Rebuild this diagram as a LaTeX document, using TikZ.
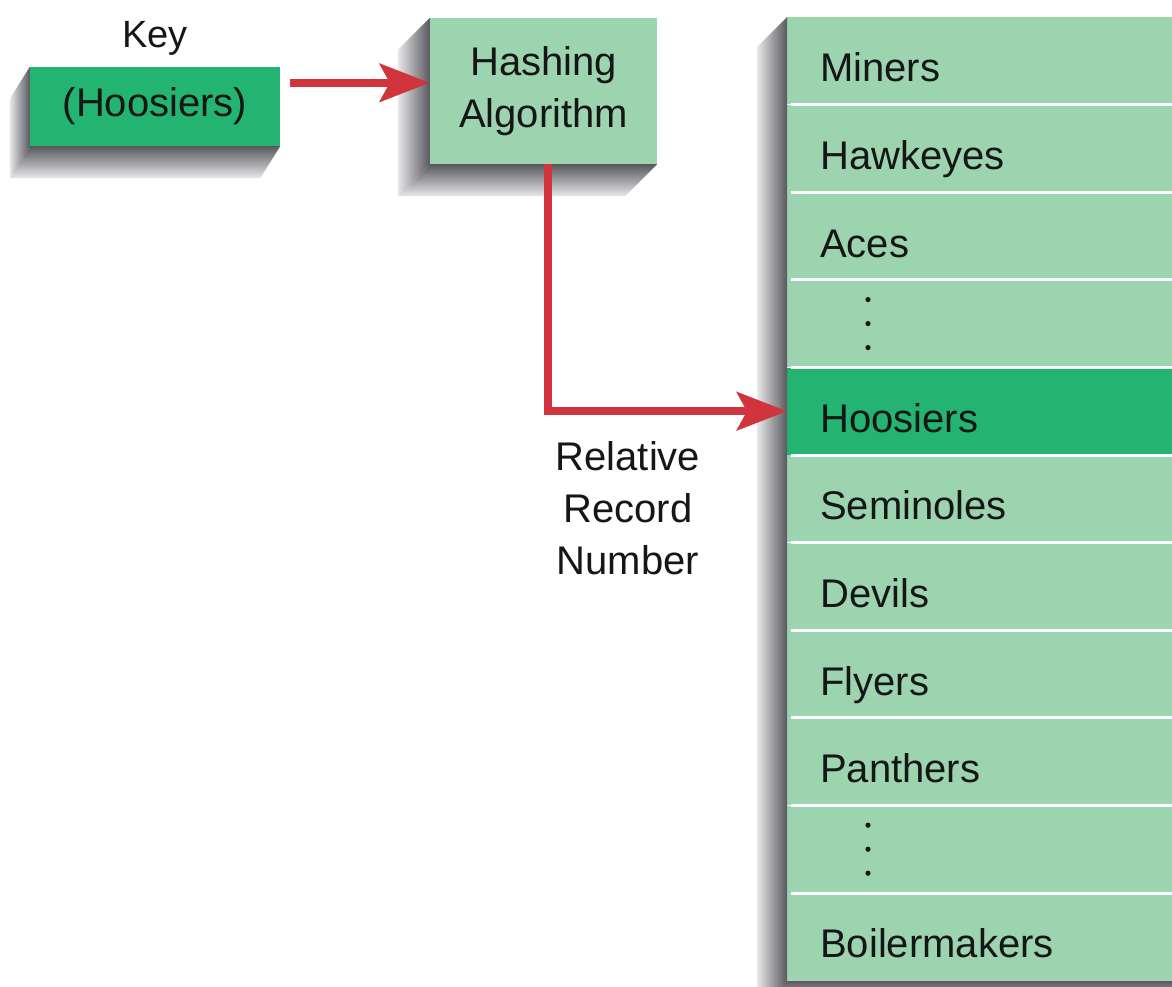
\documentclass[tikz,border=0pt]{standalone}
\usepackage{fontspec}
\setmainfont{Liberation Sans}
\usetikzlibrary{arrows.meta,calc}
\definecolor{darkgr}{RGB}{34,180,112}
\definecolor{lightgr}{RGB}{157,212,176}
\definecolor{arrred}{RGB}{208,52,60}
\definecolor{shaddark}{RGB}{88,88,94}
\definecolor{shadlight}{RGB}{232,232,234}
\definecolor{txt}{RGB}{22,22,22}
\newcommand\dropshadow[5]{%
  \shade[left color=shadlight, right color=shaddark] (#1) -- ++(-#4,#5) -- ($(#2)+(-#4,#5)$) -- (#2) -- cycle;
  \shade[top color=shaddark, bottom color=shadlight] (#2) -- ++(-#4,#5) -- ($(#3)+(-#4,#5)$) -- (#3) -- cycle;}
\tikzset{
  fs/.style={font=\fontsize{40}{52}\selectfont, text=txt},
  keybox/.style={rectangle, fill=darkgr, minimum width=250pt, minimum height=79pt, inner sep=0pt, fs},
  hashbox/.style={rectangle, fill=lightgr, minimum width=227pt, minimum height=146pt, inner sep=0pt, align=center, fs},
  row/.style={rectangle, fill=lightgr, minimum height=87.2pt, minimum width=420pt, text width=354pt,
    inner xsep=33pt, inner ysep=0pt, align=left, anchor=north west, text height=42pt, text depth=0pt, fs},
  hotrow/.style={row, fill=darkgr},
  sep/.style={draw=white, line width=3pt},
  arr/.style={draw=arrred, line width=8pt, -{Stealth[length=50pt,width=38pt,inset=10pt]}},
  lbl/.style={fs, align=center, inner sep=0pt},
  dot/.style={fill=txt}
}
\begin{document}
\begin{tikzpicture}[x=1pt,y=-1pt]
\clip (0,0) rectangle (1172,986);
\fill[white] (0,0) rectangle (1172,986);
% key
\node[keybox] (key) at (155,106.5) {(Hoosiers)};
\node[lbl, font=\fontsize{38}{46}\selectfont] (keylbl) at (155,38) {Key};
% hashing
\node[hashbox] (hash) at (543.5,91) {Hashing\\Algorithm};
% table rows
\node[row] (r1) at (787,17) {Miners};
\node[row] (r2) at (r1.south west) {Hawkeyes};
\node[row] (r3) at (r2.south west) {Aces};
\node[row] (r4) at (r3.south west) {};
\node[hotrow] (r5) at (r4.south west) {Hoosiers};
\node[row] (r6) at (r5.south west) {Seminoles};
\node[row] (r7) at (r6.south west) {Devils};
\node[row] (r8) at (r7.south west) {Flyers};
\node[row] (r9) at (r8.south west) {Panthers};
\node[row] (r10) at (r9.south west) {};
\node[row] (r11) at (r10.south west) {Boilermakers};
\foreach \i in {2,...,11}{\draw[sep] ([xshift=4pt]r\i.north west) -- (r\i.north east);}
% dots
\foreach \r in {r4,r10}{
  \foreach \dy in {-24,0,24}{\fill[dot] ($(\r.west)+(81,\dy)$) circle (2.6);}
}
% shadows
\dropshadow{key.north west}{key.south west}{key.south east}{20}{32}
\dropshadow{hash.north west}{hash.south west}{hash.south east}{32}{32}
\dropshadow{r1.north west}{r11.south west}{r11.south east}{30}{30}
% arrows
\coordinate (a1) at ([shift={(10,16)}]key.north east);
\draw[arr] (a1) -- (a1 -| hash.west);
\coordinate (a2) at ([xshift=4pt]hash.south);
\draw[arr] (a2) |- (r5.west);
\node[lbl, anchor=north] (rrn) at (628,441) {Relative\\Record\\Number};
\end{tikzpicture}
\end{document}
